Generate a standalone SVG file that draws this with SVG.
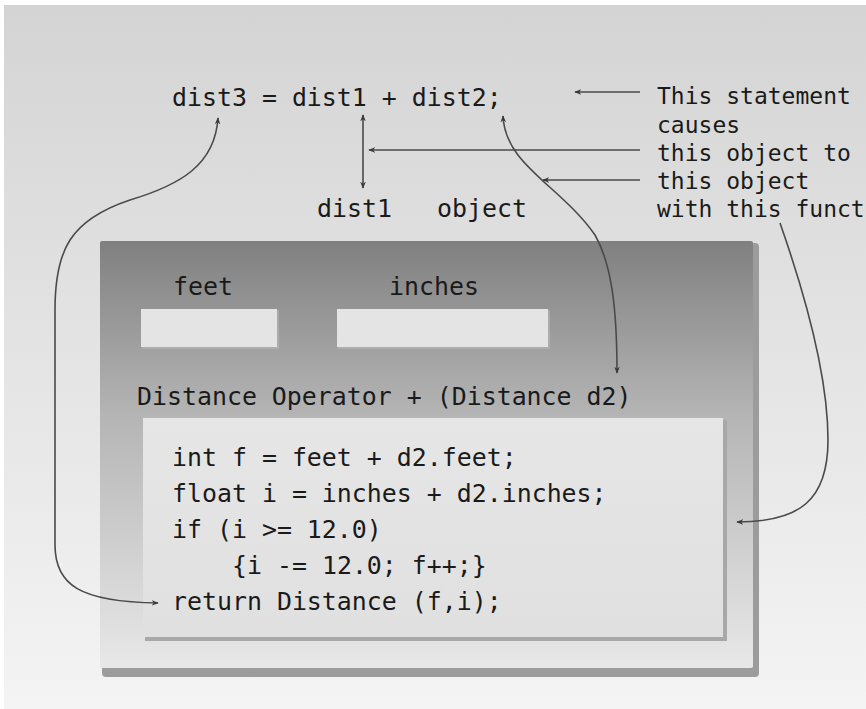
<svg xmlns="http://www.w3.org/2000/svg" width="866" height="709" viewBox="0 0 866 709">
<defs>
<linearGradient id="bg" x1="0" y1="0" x2="0" y2="1">
<stop offset="0" stop-color="#d4d4d4"/>
<stop offset="1" stop-color="#f4f4f4"/>
</linearGradient>
<linearGradient id="outer" x1="0" y1="0" x2="0" y2="1">
<stop offset="0" stop-color="#808080"/>
<stop offset="0.4" stop-color="#b4b4b4"/>
<stop offset="1" stop-color="#e8e8e8"/>
</linearGradient>
<linearGradient id="code" x1="0" y1="0" x2="0" y2="1">
<stop offset="0" stop-color="#e6e6e6"/>
<stop offset="1" stop-color="#e0e0e0"/>
</linearGradient>
<marker id="ah" viewBox="0 0 10 10" refX="9" refY="5" markerWidth="7" markerHeight="7" orient="auto-start-reverse" markerUnits="userSpaceOnUse">
<path d="M0,1 L10,5 L0,9 L3,5 Z" fill="#3a3a3a"/>
</marker>
<style>
.t{font-family:"DejaVu Sans Mono","Liberation Mono",monospace;font-size:24.9px;fill:#1a1a1a}
.ann{font-family:"DejaVu Sans Mono","Liberation Mono",monospace;font-size:23px;fill:#1a1a1a}
.c{fill:none;stroke:#4a4a4a;stroke-width:1.6}
.field{fill:#e4e4e4}
</style>
</defs>
<rect x="0" y="0" width="866" height="709" fill="#ffffff"/>
<rect x="4" y="5" width="862" height="704" fill="url(#bg)"/>

<g id="statement">
<text class="t" x="172" y="106">dist3 = dist1 + dist2;</text>
</g>
<g id="annotation">
<text class="ann" x="657" y="104">This statement</text>
<text class="ann" x="657" y="133">causes</text>
<text class="ann" x="657" y="161">this object to</text>
<text class="ann" x="657" y="189">this object</text>
<text class="ann" x="657" y="217">with this funct</text>
</g>
<g id="dist1-label">
<text class="t" x="317" y="217">dist1</text>
<text class="t" x="437" y="217">object</text>
</g>

<g id="object">
<rect x="102" y="243" width="657" height="434" rx="4" fill="#9c9c9c"/>
<rect x="100" y="241" width="653" height="427" rx="2" fill="url(#outer)"/>
<g id="feet">
<text class="t" x="173" y="295">feet</text>
<rect x="142" y="310" width="137" height="39" fill="#b8b8b8" opacity="0.6"/>
<rect class="field" x="141" y="309" width="136" height="38"/>
</g>
<g id="inches">
<text class="t" x="389" y="295">inches</text>
<rect x="338" y="310" width="212" height="39" fill="#b8b8b8" opacity="0.6"/>
<rect class="field" x="337" y="309" width="211" height="38"/>
</g>
<g id="function">
<text class="t" x="137" y="405">Distance Operator + (Distance d2)</text>
<rect x="145" y="420" width="582" height="221" fill="#a8a8a8"/>
<rect x="143" y="418" width="580" height="219" fill="url(#code)"/>
<text class="t" x="172" y="466">int f = feet + d2.feet;</text>
<text class="t" x="172" y="502">float i = inches + d2.inches;</text>
<text class="t" x="172" y="538">if (i &gt;= 12.0)</text>
<text class="t" x="232" y="574">{i -= 12.0; f++;}</text>
<text class="t" x="172" y="610">return Distance (f,i);</text>
</g>
</g>

<g id="connectors">
<path class="c" d="M218,118 C215,165 180,185 130,200 C70,220 55,250 55,310 L55,545 C55,585 80,602 158,603" marker-start="url(#ah)" marker-end="url(#ah)"/>
<path class="c" d="M640,92 L575,92" marker-end="url(#ah)"/>
<path class="c" d="M640,150 L369,150" marker-end="url(#ah)"/>
<path class="c" d="M640,180 L543,180" marker-end="url(#ah)"/>
<path class="c" d="M363,115 L363,188" marker-start="url(#ah)" marker-end="url(#ah)"/>
<path class="c" d="M503,116 C505,165 560,185 595,235 C612,265 617,310 617,373" marker-start="url(#ah)" marker-end="url(#ah)"/>
<path class="c" d="M780,223 C800,280 828,370 828,440 C828,500 800,522 737,522" marker-end="url(#ah)"/>
</g>
</svg>
